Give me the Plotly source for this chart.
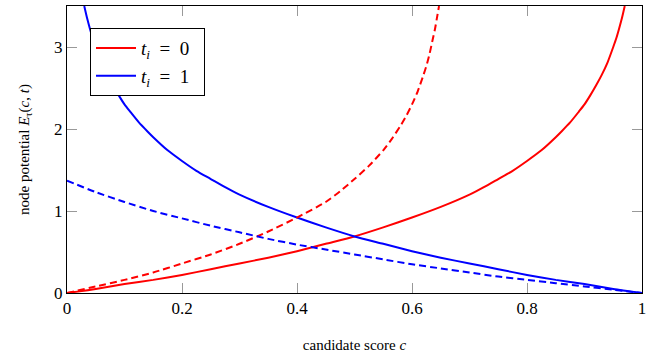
import plotly.graph_objects as go

# Values
c_blue_solid = [0.030, 0.035, 0.04, 0.045, 0.05, 0.06, 0.07, 0.08, 0.09, 0.10, 0.11, 0.125, 0.14,
                0.15, 0.175, 0.20, 0.225, 0.25, 0.275, 0.30, 0.35, 0.40, 0.45, 0.50, 0.55,
                0.60, 0.65, 0.70, 0.75, 0.80, 0.85, 0.90, 0.95, 1.00]
e_blue_solid = [3.50, 3.35, 3.22, 3.10, 3.00, 2.81, 2.66, 2.53, 2.41, 2.30, 2.21, 2.08, 1.97,
                1.90, 1.74, 1.61, 1.49, 1.39, 1.29, 1.20, 1.05, 0.92, 0.80, 0.69, 0.60,
                0.51, 0.43, 0.36, 0.29, 0.22, 0.16, 0.11, 0.05, 0.00]

c_red_solid = [0.00, 0.05, 0.10, 0.15, 0.20, 0.25, 0.30, 0.35, 0.40, 0.45, 0.50, 0.55, 0.60,
               0.65, 0.70, 0.725, 0.75, 0.775, 0.80, 0.825, 0.85, 0.86, 0.875, 0.89, 0.90,
               0.91, 0.92, 0.93, 0.94, 0.95, 0.955, 0.96, 0.965, 0.97]
e_red_solid = [0.00, 0.05, 0.11, 0.16, 0.22, 0.29, 0.36, 0.43, 0.51, 0.60, 0.69, 0.80, 0.92,
               1.05, 1.20, 1.29, 1.39, 1.49, 1.61, 1.74, 1.90, 1.97, 2.08, 2.21, 2.30,
               2.41, 2.53, 2.66, 2.81, 3.00, 3.10, 3.22, 3.35, 3.50]

c_red_dash = [0.00, 0.05, 0.10, 0.15, 0.20, 0.25, 0.30, 0.35, 0.40, 0.45, 0.475, 0.50, 0.525,
              0.55, 0.565, 0.58, 0.59, 0.60, 0.61, 0.62, 0.625, 0.63, 0.635, 0.64, 0.644, 0.647]
e_red_dash = [0.00, 0.08, 0.16, 0.25, 0.36, 0.47, 0.60, 0.75, 0.92, 1.11, 1.24, 1.39, 1.55,
              1.74, 1.88, 2.04, 2.16, 2.30, 2.46, 2.66, 2.77, 2.90, 3.06, 3.22, 3.38, 3.50]

c_blue_dash = [0.00, 0.05, 0.10, 0.15, 0.20, 0.25, 0.30, 0.35, 0.40, 0.45, 0.50, 0.55, 0.60,
               0.65, 0.70, 0.75, 0.80, 0.85, 0.90, 0.95, 1.00]
e_blue_dash = [1.37, 1.23, 1.11, 1.00, 0.91, 0.82, 0.74, 0.66, 0.59, 0.53, 0.47, 0.41, 0.35,
               0.30, 0.25, 0.20, 0.16, 0.12, 0.08, 0.04, 0.00]

x_ticks = [0, 0.2, 0.4, 0.6, 0.8, 1]
x_tick_labels = ["0", "0.2", "0.4", "0.6", "0.8", "1"]
y_ticks = [0, 1, 2, 3]
y_tick_labels = ["0", "1", "2", "3"]

RED = "#ff0000"
BLUE = "#0000ff"
FONT = "Liberation Serif"
SP = "\u00a0"

fig = go.Figure()
fig.add_trace(go.Scatter(x=c_red_solid, y=e_red_solid, mode="lines",
                         line=dict(color=RED, width=2, shape="spline", smoothing=0.6),
                         name=f"<i>t</i><sub><i>i</i></sub>{SP}{SP}={SP}{SP}0{SP}{SP}"))
fig.add_trace(go.Scatter(x=c_blue_solid, y=e_blue_solid, mode="lines",
                         line=dict(color=BLUE, width=2, shape="spline", smoothing=0.6),
                         name=f"<i>t</i><sub><i>i</i></sub>{SP}{SP}={SP}{SP}1{SP}{SP}"))
fig.add_trace(go.Scatter(x=c_red_dash, y=e_red_dash, mode="lines",
                         line=dict(color=RED, width=2, dash="7px,4px", shape="spline", smoothing=0.6),
                         showlegend=False))
fig.add_trace(go.Scatter(x=c_blue_dash, y=e_blue_dash, mode="lines",
                         line=dict(color=BLUE, width=2, dash="7px,4px", shape="spline", smoothing=0.6),
                         showlegend=False))

axis_common = dict(
    showgrid=False, zeroline=False, showline=True, linecolor="black", linewidth=1,
    mirror="ticks", ticks="inside", ticklen=10, tickcolor="#999999", tickwidth=1,
    tickfont=dict(family=FONT, size=17, color="black"), automargin=False,
)

fig.update_layout(
    width=660, height=356,
    margin=dict(l=67, r=18, t=6, b=63),
    paper_bgcolor="white", plot_bgcolor="white",
    font=dict(family=FONT, size=15, color="black"),
    xaxis=dict(range=[0, 1], tickvals=x_ticks, ticktext=x_tick_labels,
               title=dict(text="candidate score <i>c</i>", standoff=22,
                          font=dict(family=FONT, size=15)),
               **axis_common),
    yaxis=dict(range=[0, 3.5], tickvals=y_ticks, ticktext=y_tick_labels,
               title=dict(text="node potential <i>E</i><sub>τ</sub>(<i>c</i>, <i>t</i>)",
                          standoff=20, font=dict(family=FONT, size=15)),
               **axis_common),
    legend=dict(x=0.04, y=0.923, xanchor="left", yanchor="top",
                bgcolor="white", bordercolor="black", borderwidth=1,
                font=dict(family=FONT, size=19), tracegroupgap=0, itemwidth=40),
)

fig.write_html("out.html", config={"displayModeBar": False},
               post_script="document.body.style.margin='0';document.body.style.padding='0';")
